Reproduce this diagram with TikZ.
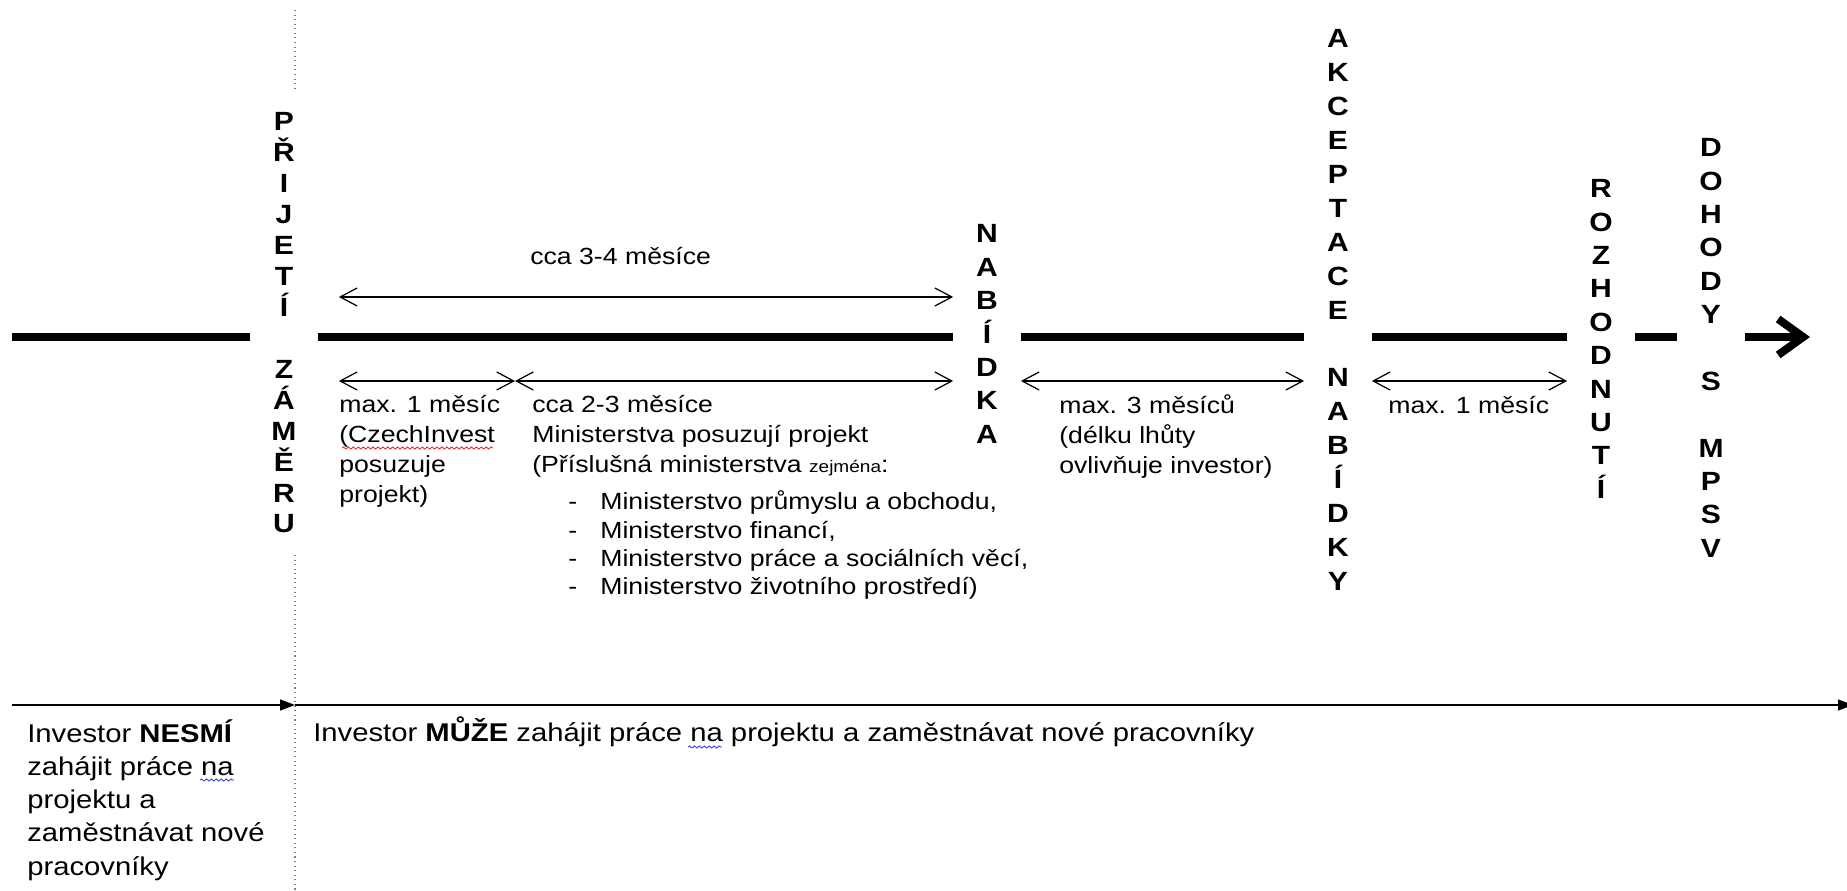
\documentclass[tikz,border=0pt]{standalone}
\usepackage{fontspec}
\setmainfont{Liberation Sans}[FakeStretch=1.14]
\usetikzlibrary{arrows.meta,decorations.pathmorphing}

\definecolor{kontrolared}{RGB}{230,40,40}
\definecolor{kontrolablue}{RGB}{60,60,235}

\begin{document}
\begin{tikzpicture}[
    x=0.02cm, y=-0.02cm,
    milestone/.style={
        inner sep=0pt,
        minimum width=1.34cm,
        align=center,
        font=\fontsize{15}{19}\selectfont\bfseries
    },
    note/.style={
        inner sep=0pt,
        anchor=base west,
        align=left,
        font=\fontsize{13.3}{17.1}\selectfont
    },
    axis/.style={
        line width=0.16cm
    },
    span/.style={
        {Straight Barb[length=0.34cm,width=0.36cm]}-{Straight Barb[length=0.34cm,width=0.36cm]},
        line width=0.7pt
    },
    timeline/.style={
        -{Triangle[length=0.3cm,width=0.22cm]},
        line width=0.8pt
    },
    boundary/.style={
        draw=gray,
        dotted,
        line width=0.6pt
    },
    squiggle/.style={
        decorate,
        decoration={snake, amplitude=0.6pt, segment length=2.8pt},
        line width=0.5pt
    }
]

\useasboundingbox (0,0) rectangle (1847,891);

% Milníky
\node[milestone, font=\fontsize{15}{17.6}\selectfont\bfseries] (prijeti) at (284,323)
    {P\\Ř\\I\\J\\E\\T\\Í\\ \\Z\\Á\\M\\Ě\\R\\U};
\node[milestone] (nabidka) at (987,334) {N\\A\\B\\Í\\D\\K\\A};
\node[milestone, font=\fontsize{15}{19.3}\selectfont\bfseries] (akceptace) at (1338,310)
    {A\\K\\C\\E\\P\\T\\A\\C\\E\\ \\N\\A\\B\\Í\\D\\K\\Y};
\node[milestone] (rozhodnuti) at (1601,339) {R\\O\\Z\\H\\O\\D\\N\\U\\T\\Í};
\node[milestone] (dohody) at (1711,348) {D\\O\\H\\O\\D\\Y\\ \\S\\ \\M\\P\\S\\V};

% Časová osa
\coordinate (start) at (12,337);
\coordinate (cil) at (1810,337);
\draw[axis] (start) -- (prijeti.west |- start);
\draw[axis] (prijeti.east |- start) -- (nabidka.west |- start);
\draw[axis] (nabidka.east |- start) -- (akceptace.west |- start);
\draw[axis] (akceptace.east |- start) -- (rozhodnuti.west |- start);
\draw[axis] (rozhodnuti.east |- start) -- (dohody.west |- start);
\draw[axis, -{Straight Barb[length=0.5cm,width=0.72cm]}] (dohody.east |- start) -- (cil);

% Lhůty
\coordinate (horni) at (0,297);
\coordinate (dolni) at (0,381);
\coordinate (mez) at (515,381);
\draw[span] ([xshift=0.42cm]prijeti.east |- horni) -- (nabidka.west |- horni);
\draw[span] ([xshift=0.42cm]prijeti.east |- dolni) -- (mez);
\draw[span] (mez) -- (nabidka.west |- dolni);
\draw[span] (nabidka.east |- dolni) -- (akceptace.west |- dolni);
\draw[span] (akceptace.east |- dolni) -- (rozhodnuti.west |- dolni);

% Popisy (kotva = účaří posledního řádku)
\node[note] (celkem) at (530,265) {cca 3-4 měsíce};
\node[note] (czechinvest) at (339,503) {max. 1 měsíc\\(CzechInvest\\posuzuje\\projekt)};
\node[note] (ministerstva) at (532,473)
    {cca 2-3 měsíce\\Ministerstva posuzují projekt\\(Příslušná ministerstva {\fontsize{9.5}{12}\selectfont zejména}:};
\node[note, font=\fontsize{13.3}{16.2}\selectfont] (seznam) at (568,595) {%
    \makebox[0.64cm][l]{-}Ministerstvo průmyslu a obchodu,\\
    \makebox[0.64cm][l]{-}Ministerstvo financí,\\
    \makebox[0.64cm][l]{-}Ministerstvo práce a sociálních věcí,\\
    \makebox[0.64cm][l]{-}Ministerstvo životního prostředí)};
\node[note] (lhuta3) at (1059,474) {max. 3 měsíců\\(délku lhůty\\ovlivňuje investor)};
\node[note] (lhuta1) at (1388,414) {max. 1 měsíc};

% Investor
\coordinate (zacatek) at (12,705);
\coordinate (predel) at (295,705);
\coordinate (konec) at (1853,705);
\draw[timeline] (zacatek) -- (predel);
\draw[timeline] (predel) -- (konec);
\coordinate (hranice1) at (295,10);
\coordinate (hranice2) at (295,92);
\coordinate (hranice3) at (295,555);
\coordinate (hranice4) at (295,891);
\draw[boundary] (hranice1) -- (hranice2);
\draw[boundary] (hranice3) -- (hranice4);

\node[note, font=\fontsize{14.6}{18.8}\selectfont] (nesmi) at (27,875)
    {Investor \textbf{NESMÍ}\\zahájit práce na\\projektu a\\zaměstnávat nové\\pracovníky};
\node[note, font=\fontsize{14.6}{18.8}\selectfont] (muze) at (313,742)
    {Investor \textbf{MŮŽE} zahájit práce na projektu a zaměstnávat nové pracovníky};

% Vlnovky kontroly pravopisu
\draw[squiggle, kontrolared] (342,448) -- (493,448);
\draw[squiggle, kontrolablue] (200,780) -- (234,780);
\draw[squiggle, kontrolablue] (688,747) -- (722,747);

\end{tikzpicture}
\end{document}
